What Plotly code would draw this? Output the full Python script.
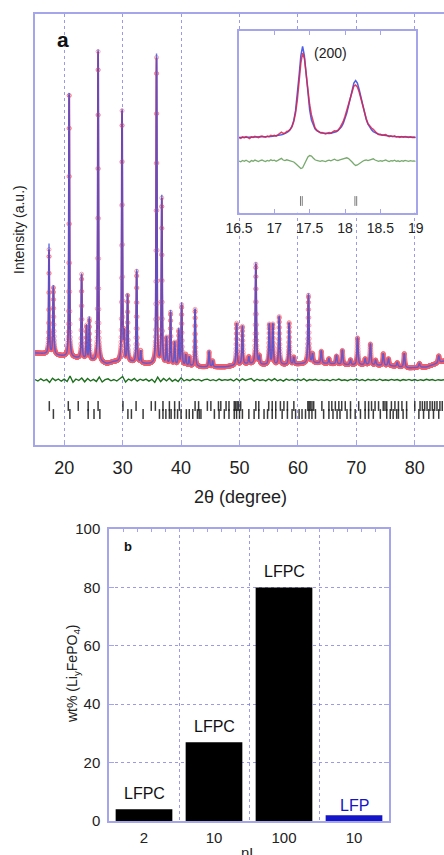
import numpy as np
import plotly.graph_objects as go

W, H = 444, 855
FONT = "Liberation Sans, Arial, sans-serif"
FRAME = "rgb(165,165,235)"
GRID = "rgba(120,120,225,0.75)"


def px(x):
    return x / W


def py(y):
    return 1 - y / H


# ---------------- panel a: Rietveld refinement ----------------
# background points (2theta, intensity)
bg_x = [15, 17, 19.5, 22, 24.5, 27.3, 28.5, 31.5, 34, 41, 43.5, 47.5, 51.5, 54, 58, 63, 66, 69, 72, 76, 79, 82, 85]
bg_y = [27, 26, 24, 22, 20, 16, 18, 18, 16, 14, 13, 13, 16, 15, 15, 17, 16, 15, 15, 14, 12, 13, 19]

# reflections: position (deg), observed / calculated height above background, FWHM (deg)
peak_pos = [17.40, 18.15, 20.85, 22.98, 23.82, 24.30, 25.80, 29.90, 30.25, 30.85,
            32.40, 33.10, 35.80, 36.70, 37.50, 38.20, 38.90, 39.60, 40.10, 40.80,
            41.40, 42.40, 44.80, 45.40, 49.50, 50.50, 51.60, 52.80, 53.40, 55.10,
            55.70, 56.80, 58.50, 59.30, 61.80, 62.50, 64.00, 65.30, 66.60, 67.60,
            69.00, 70.20, 71.50, 72.40, 73.30, 74.60, 75.50, 77.00, 78.20, 80.80, 84.10]
peak_obs = [104, 67, 266, 84, 33, 40, 310, 250, 26, 66,
            91, 12, 306, 165, 26, 52, 22, 34, 60, 11,
            9, 57, 15, 6, 42, 38, 7, 100, 8, 40,
            40, 48, 42, 7, 68, 9, 12, 5, 8, 14,
            5, 27, 6, 21, 5, 12, 7, 4, 14, 4, 7]
peak_calc = [110, 69, 268, 85, 34, 42, 312, 252, 26, 67,
             93, 12, 310, 168, 27, 54, 23, 36, 62, 11,
             9, 58, 16, 6, 42, 39, 7, 102, 8, 41,
             41, 49, 42, 7, 70, 9, 13, 5, 9, 15,
             5, 28, 6, 22, 5, 12, 7, 4, 14, 4, 7]
peak_fwhm = [0.14, 0.20, 0.14, 0.15, 0.15, 0.15, 0.15, 0.15, 0.16, 0.16,
             0.16, 0.16, 0.16, 0.16, 0.17, 0.17, 0.17, 0.17, 0.17, 0.18,
             0.18, 0.18, 0.19, 0.19, 0.20, 0.20, 0.20, 0.20, 0.20, 0.21,
             0.21, 0.21, 0.21, 0.21, 0.22, 0.22, 0.22, 0.22, 0.23, 0.23,
             0.23, 0.24, 0.24, 0.24, 0.24, 0.25, 0.25, 0.25, 0.26, 0.26, 0.27]

# difference curve (obs - calc), every 0.5 deg from 15 to 85
diff_y = [0.5, -1.0, 1.2, -0.8, 0.6, -2.5, 1.8, -0.6, 1.0, -1.2,
          0.8, -1.5, 4.0, -2.2, 1.0, -0.5, 2.0, -1.8, 1.5, -1.0,
          0.6, -1.4, 3.0, -2.0, 0.4, 1.2, -0.8, 0.5, -1.0, 1.4,
          3.5, -2.0, 1.0, -0.6, 1.6, -1.2, 0.8, -0.4, 0.9, -1.1,
          0.7, -2.4, 2.8, -1.6, 1.5, -0.9, 1.8, -1.3, 0.6, -1.5,
          2.2, -1.0, 0.5, -0.7, 1.0, -0.3, 0.6, -0.9, 0.4, 0.8,
          -0.6, 0.3, -0.8, 0.9, -0.5, 0.4, -0.2, 0.7, -1.0, 1.2,
          -0.9, 1.1, -0.4, 0.6, 1.5, -1.2, 0.8, -0.5, 0.3, -0.9,
          1.0, -0.6, 1.3, -0.8, 0.5, -1.1, 0.9, -0.3, 0.6, -0.7,
          0.8, -0.5, 1.2, -0.9, 0.4, -0.2, 0.7, -0.6, 0.3, -0.4,
          0.5, -0.8, 0.6, -0.3, 0.9, -0.5, 0.2, -0.7, 0.6, -0.2,
          1.0, -0.6, 0.4, -0.8, 0.7, -0.3, 0.5, -0.6, 0.8, -0.4,
          0.3, -0.5, 0.6, -0.2, 0.4, -0.7, 0.5, -0.3, 0.6, -0.5,
          0.4, -0.6, 0.3, -0.4, 0.7, -0.2, 0.5, -0.6, 0.3, -0.3,
          0.2]

# Bragg reflection markers of the two phases
bragg_row1 = [17.45, 20.7, 22.4, 24.1, 25.8, 30.05, 32.3, 34.9, 35.6, 36.9, 38.0, 38.9, 39.7,
              42.4, 43.0, 44.5, 45.1, 46.4, 46.8, 47.7, 48.2, 49.1, 49.35, 49.6, 49.85, 50.2,
              52.8, 53.3, 55.0, 55.6, 56.2, 57.0, 57.6, 58.2, 59.3, 61.7, 61.9, 62.1, 62.4, 62.7,
              64.1, 65.3, 65.8, 66.4, 67.0, 67.5, 68.1, 69.0, 70.4, 71.5, 72.1, 72.6, 73.2, 73.8,
              74.6, 74.9, 75.2, 76.0, 76.6, 77.2, 77.8, 78.6, 80.0, 80.9, 81.3, 81.7, 82.1, 82.6,
              83.0, 83.4, 83.8, 84.3, 84.7]
bragg_row2 = [18.15, 20.97, 24.1, 25.1, 26.1, 30.9, 31.5, 33.5, 36.3, 36.9, 37.4, 38.0, 38.3,
              38.9, 39.4, 40.0, 40.9, 41.4, 42.0, 42.8, 43.1, 43.4, 45.7, 46.5, 47.4, 48.2,
              49.1, 49.5, 50.0, 50.5, 51.6, 52.5, 53.3, 54.2, 54.8, 55.6, 56.2, 57.3, 58.2,
              59.0, 59.6, 60.2, 60.7, 61.3, 61.9, 62.4, 63.0, 64.4, 65.3, 66.0, 66.7, 67.2,
              68.4, 69.0, 69.8, 70.7, 71.5, 72.1, 72.9, 74.1, 75.2, 75.8, 76.3, 76.9, 77.2,
              78.0, 78.6, 80.7, 81.5, 82.4, 83.2, 84.1]

# ---------------- inset: (200) region ----------------
ins_bg = 23
ins_pos = [17.40, 18.15]
ins_amp = [91, 57]
ins_fwhm = [0.14, 0.22]
ins_bragg = [17.37, 17.395, 18.14, 18.165]
# difference curve, every 0.025 deg from 16.5 to 19
ins_diff = [0.0, -0.8, 0.5, -0.3, 0.8, -0.5, -1.2, 0.4, -0.2, 0.9,
            0.3, -0.6, 0.5, 1.0, 0.2, -0.5, 0.6, 0.0, 1.2, 0.4,
            0.8, -0.3, 0.6, 1.8, 2.6, 1.0, 0.4, 1.2, 0.6, 0.2,
            -0.4, -1.0, -2.5, -4.5, -6.5, -7.5, -6.8, -3.0, 1.5, 4.0,
            5.5, 5.0, 3.0, 1.2, 0.5, 0.2, -0.3, 0.4, 0.0, -0.6,
            0.3, 0.8, 0.2, 1.0, 1.8, 0.9, 0.5, 1.2, 1.6, 2.2,
            2.8, 3.2, 2.4, 1.0, -1.0, -3.0, -4.5, -4.0, -2.5, -1.2,
            -0.2, 0.6, 1.0, 0.4, 1.2, 1.8, 2.2, 1.0, 0.4, -0.3,
            0.3, -0.2, 0.5, 1.0, 0.2, -0.5, 0.4, 0.0, 0.8, -0.3,
            0.2, -0.6, 0.4, -0.2, 0.6, 0.0, -0.4, 0.3, -0.2, 0.1,
            -0.3]

# ---------------- panel b: phase fraction ----------------
nl_labels = ["2", "10", "100", "10"]
wt_pct = [4.0, 27.0, 80.0, 2.0]
sample = ["LFPC", "LFPC", "LFPC", "LFP"]
bar_colors = ["#000000", "#000000", "#000000", "#1414c8"]
text_colors = ["#111111", "#111111", "#111111", "#1414c8"]


def pseudo_voigt(x, pos, amp, fwhm, eta=0.6):
    out = np.zeros_like(x)
    for p, a, w in zip(pos, amp, fwhm):
        d2 = ((x - p) / w) ** 2
        out += a * (eta / (1 + 4 * d2) + (1 - eta) * np.exp(-4 * np.log(2) * d2))
    return out


tt = np.round(np.arange(15.0, 85.0 + 1e-9, 0.02), 3)
background = np.interp(tt, bg_x, bg_y)
y_obs = background + pseudo_voigt(tt, peak_pos, peak_obs, peak_fwhm)
y_calc = background + pseudo_voigt(tt, peak_pos, peak_calc, peak_fwhm)
diff_x = np.linspace(15.0, 85.0, len(diff_y))

ins_x = np.linspace(16.5, 19.0, len(ins_diff))
ins_calc = ins_bg + pseudo_voigt(ins_x, ins_pos, ins_amp, ins_fwhm)
ins_obs = ins_calc + np.array(ins_diff)

ROW1_Y, ROW2_Y = -26, -34
INS_BRAGG_Y = -40

fig = go.Figure()

# main pattern: observed (line + open circles), calculated, difference, reflections
fig.add_trace(go.Scatter(x=tt, y=y_obs, mode="lines", xaxis="x", yaxis="y",
                         line=dict(color="rgb(205,25,65)", width=1.8, simplify=False)))
fig.add_trace(go.Scatter(x=tt, y=y_obs, mode="markers", xaxis="x", yaxis="y",
                         marker=dict(symbol="circle-open", size=4,
                                     color="rgba(240,95,110,0.55)", line=dict(width=1))))
fig.add_trace(go.Scatter(x=tt, y=y_calc, mode="lines", xaxis="x", yaxis="y",
                         line=dict(color="rgba(70,90,225,0.85)", width=1.4, simplify=False)))
fig.add_trace(go.Scatter(x=diff_x, y=diff_y, mode="lines", xaxis="x", yaxis="y",
                         line=dict(color="#1d6f1d", width=1.4)))
for row, yv in ((bragg_row1, ROW1_Y), (bragg_row2, ROW2_Y)):
    fig.add_trace(go.Scatter(x=row, y=[yv] * len(row), mode="markers", xaxis="x", yaxis="y",
                             marker=dict(symbol="line-ns", size=7,
                                         line=dict(color="rgba(25,25,25,0.85)", width=1.5))))

# inset
fig.add_trace(go.Scatter(x=ins_x, y=ins_calc, mode="lines", xaxis="x2", yaxis="y2",
                         line=dict(color="rgb(80,95,230)", width=1.5)))
fig.add_trace(go.Scatter(x=ins_x, y=ins_obs, mode="lines", xaxis="x2", yaxis="y2",
                         line=dict(color="rgba(215,35,75,0.85)", width=1.5)))
fig.add_trace(go.Scatter(x=ins_x, y=ins_diff, mode="lines", xaxis="x2", yaxis="y2",
                         line=dict(color="rgb(120,170,110)", width=1.3)))
fig.add_trace(go.Scatter(x=ins_bragg, y=[INS_BRAGG_Y] * len(ins_bragg), mode="markers",
                         xaxis="x2", yaxis="y2",
                         marker=dict(symbol="line-ns", size=7,
                                     line=dict(color="rgba(110,110,110,0.9)", width=1))))

# panel b bars
cat_x = list(range(len(wt_pct)))
fig.add_trace(go.Bar(x=cat_x, y=wt_pct, xaxis="x3", yaxis="y3", width=0.81,
                     marker=dict(color=bar_colors, line=dict(width=0))))
# carrier for the fine tick row along the top edge of panel b
fig.add_trace(go.Scatter(x=[], y=[], xaxis="x4", yaxis="y3", hoverinfo="skip"))

ann = []
for i, (v, s, c) in enumerate(zip(wt_pct, sample, text_colors)):
    ann.append(dict(x=i, y=v, xref="x3", yref="y3", text=s, showarrow=False,
                    xanchor="center", yanchor="middle", yshift=16 if s == "LFPC" else 10,
                    font=dict(family=FONT, size=16, color=c)))


def label(x, y, text, size, angle=0, color="#222"):
    return dict(x=px(x), y=py(y), xref="paper", yref="paper", text=text, showarrow=False,
                xanchor="center", yanchor="middle", textangle=angle,
                font=dict(family=FONT, size=size, color=color))


ann += [
    label(63, 39, "<b>a</b>", 21, color="#111"),
    label(330, 53, "(200)", 14),
    label(19, 230, "Intensity (a.u.)", 14, angle=-90),
    label(240, 497, "2\u03b8 (degree)", 18),
    label(128, 546, "<b>b</b>", 13, color="#111"),
    label(73, 674, "wt% (Li<sub>y</sub>FePO<sub>4</sub>)", 14, angle=-90),
    label(249, 852, "nL", 15),
]

fig.update_layout(
    width=W, height=H, margin=dict(l=0, r=0, t=0, b=0, pad=0, autoexpand=False),
    paper_bgcolor="white", plot_bgcolor="white", showlegend=False,
    font=dict(family=FONT, color="#222"),
    annotations=ann,
    xaxis=dict(domain=[px(35), 1.0], range=[15, 85], anchor="y", automargin=False,
               tickvals=[20, 30, 40, 50, 60, 70, 80], ticks="inside", ticklen=5,
               tickcolor=FRAME, showline=True, linecolor=FRAME, linewidth=1.5, mirror=True,
               showgrid=True, gridcolor=GRID, griddash="dot", gridwidth=1,
               zeroline=False, tickfont=dict(size=18, color="#222"), ticklabelstandoff=6),
    yaxis=dict(domain=[py(445), py(14)], range=[-65, 366], anchor="x", automargin=False,
               showticklabels=False, ticks="", showgrid=False, zeroline=False,
               showline=True, linecolor=FRAME, linewidth=1.5),
    xaxis2=dict(domain=[px(239), px(415.7)], range=[16.5, 19], anchor="y2", automargin=False,
                tickvals=[16.5, 17, 17.5, 18, 18.5, 19], ticktext=["16.5", "17", "17.5", "18", "18.5", "19"],
                ticks="inside", ticklen=4, tickcolor=FRAME, showline=True, linecolor=FRAME,
                linewidth=1.5, mirror="ticks", showgrid=False, zeroline=False,
                tickfont=dict(size=14, color="#222"), ticklabelstandoff=2),
    yaxis2=dict(domain=[py(212.7), py(31)], range=[-51.7, 130], anchor="x2", automargin=False,
                showticklabels=False, ticks="", showgrid=False, zeroline=False,
                showline=True, linecolor=FRAME, linewidth=1.5, mirror=True),
    xaxis3=dict(domain=[px(109), px(389)], range=[-0.5, 3.5], anchor="y3", automargin=False,
                tickvals=cat_x, ticktext=nl_labels, ticks="", showline=True,
                linecolor=FRAME, linewidth=1.5, mirror=True, showgrid=False, zeroline=False,
                minor=dict(tickvals=[0.5, 1.5, 2.5], showgrid=True, gridcolor=GRID,
                           griddash="dot", ticks=""),
                tickfont=dict(size=15, color="#222"), ticklabelstandoff=2),
    xaxis4=dict(overlaying="x3", side="top", anchor="y3", range=[-0.5, 3.5], automargin=False,
                tickmode="linear", tick0=-0.5, dtick=0.2, ticks="inside", ticklen=3,
                tickcolor=FRAME, showticklabels=False, showline=False, showgrid=False,
                zeroline=False),
    yaxis3=dict(domain=[py(821), py(529)], range=[0, 100], anchor="x3", automargin=False,
                tickvals=[0, 20, 40, 60, 80, 100], ticks="inside", ticklen=5, tickcolor=FRAME,
                showline=True, linecolor=FRAME, linewidth=1.5, mirror="ticks",
                showgrid=True, gridcolor=GRID, griddash="dot", zeroline=False,
                tickfont=dict(size=15, color="#222"), ticklabelstandoff=4),
)

fig.write_html("out.html")
